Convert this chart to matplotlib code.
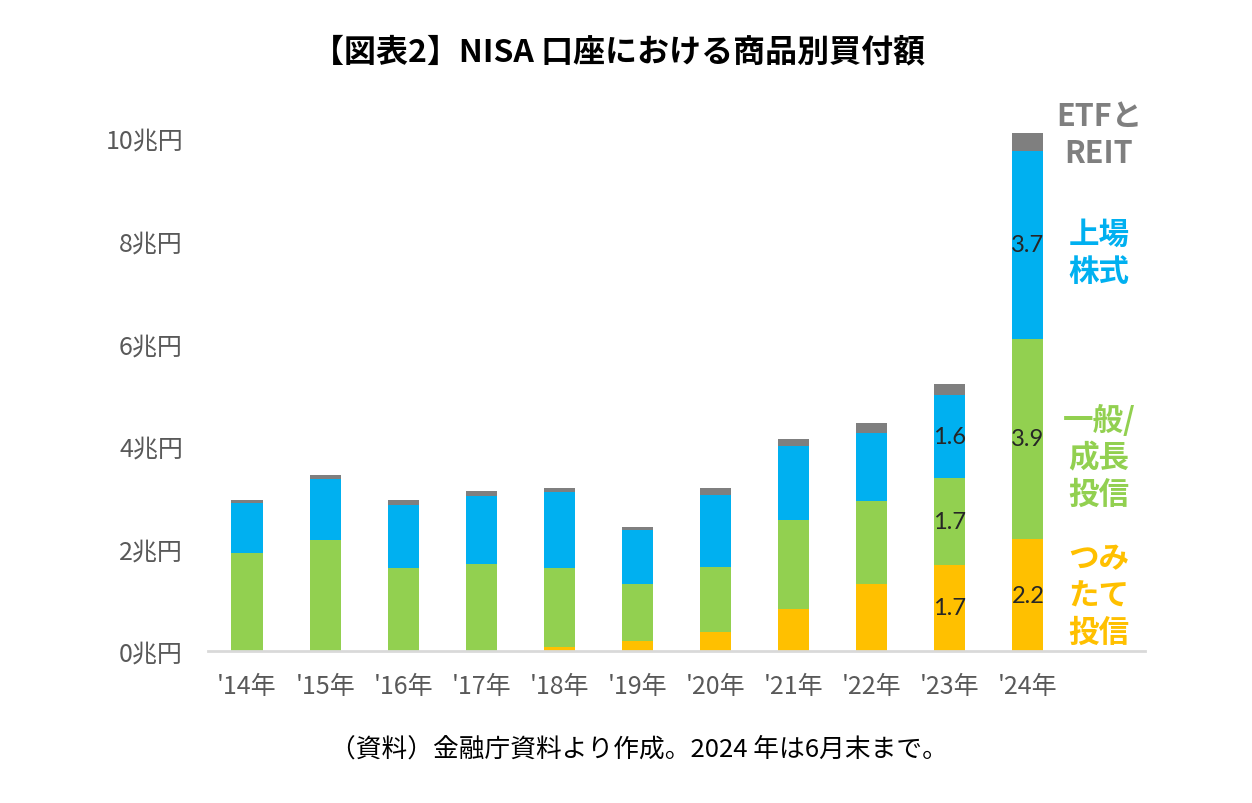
import numpy as np
import matplotlib
matplotlib.use("Agg")
import matplotlib.pyplot as plt

plt.rcParams['font.family'] = ['Noto Sans CJK JP', 'DejaVu Sans']

years = ["'14年", "'15年", "'16年", "'17年", "'18年", "'19年",
         "'20年", "'21年", "'22年", "'23年", "'24年"]
# 兆円
tsumitate = [0.00, 0.00, 0.00, 0.00, 0.08, 0.19, 0.37, 0.82, 1.31, 1.68, 2.18]
ippan     = [1.92, 2.16, 1.62, 1.70, 1.54, 1.12, 1.27, 1.73, 1.61, 1.70, 3.91]
stocks    = [0.96, 1.19, 1.22, 1.32, 1.47, 1.05, 1.40, 1.45, 1.32, 1.62, 3.66]
etf_reit  = [0.06, 0.09, 0.10, 0.09, 0.08, 0.06, 0.13, 0.14, 0.21, 0.20, 0.34]

yticks = [0, 2, 4, 6, 8, 10]
ytick_labels = ["0兆円", "2兆円", "4兆円", "6兆円", "8兆円", "10兆円"]

series = [
    (tsumitate, "#ffc000", "つみ\nたて\n投信", 1.09),
    (ippan, "#92d050", "一般/\n成長\n投信", 3.78),
    (stocks, "#00b0f0", "上場\n株式", 7.77),
    (etf_reit, "#7f7f7f", "ETFと\nREIT", 10.06),
]

fig = plt.figure(figsize=(12.52, 8.04), dpi=100)
ax = fig.add_axes([208 / 1252, 1 - 652 / 804, 937 / 1252, 10.5 * 51.3 / 804])

x = np.arange(len(years))
bottom = np.zeros(len(years))
for vals, col, name, ypos in series:
    vals = np.array(vals)
    ax.bar(x, vals, 0.4, bottom=bottom, color=col, linewidth=0)
    bottom = bottom + vals
    # 右側の系列名
    ax.text(10.91, ypos, name, ha="center", va="center", fontsize=22,
            color=col, fontweight="bold", linespacing=1.2)

# 数値ラベル（'23年と'24年のみ）
base = np.zeros(len(years))
for vals, col, name, ypos in series[:3]:
    vals = np.array(vals)
    for i in [9, 10]:
        ax.text(x[i], base[i] + vals[i] / 2, f"{vals[i]:.1f}", ha="center", va="center",
                fontsize=17, color="#262626", family=["Lato", "DejaVu Sans"])
    base = base + vals

ax.set_xlim(-0.5, 11.5)
ax.set_ylim(0, 10.5)
ax.set_xticks(x)
ax.set_xticklabels(years, fontsize=18, color="#595959")
ax.set_yticks(yticks)
ax.set_yticklabels(ytick_labels, fontsize=18, color="#595959")
ax.tick_params(length=0, axis="y", pad=18)
ax.tick_params(length=0, axis="x", pad=16)
for s in ["top", "right", "left"]:
    ax.spines[s].set_visible(False)
ax.spines["bottom"].set_color("#d9d9d9")
ax.spines["bottom"].set_linewidth(2)

fig.text(0.494, 1 - 52 / 804, "【図表2】NISA 口座における商品別買付額", ha="center", va="center",
         fontsize=23, fontweight="bold", color="black")
fig.text(0.510, 1 - 750 / 804, "（資料）金融庁資料より作成。2024 年は6月末まで。", ha="center", va="center",
         fontsize=18.5, color="black")

fig.savefig("out.png", dpi=100, facecolor="white")
